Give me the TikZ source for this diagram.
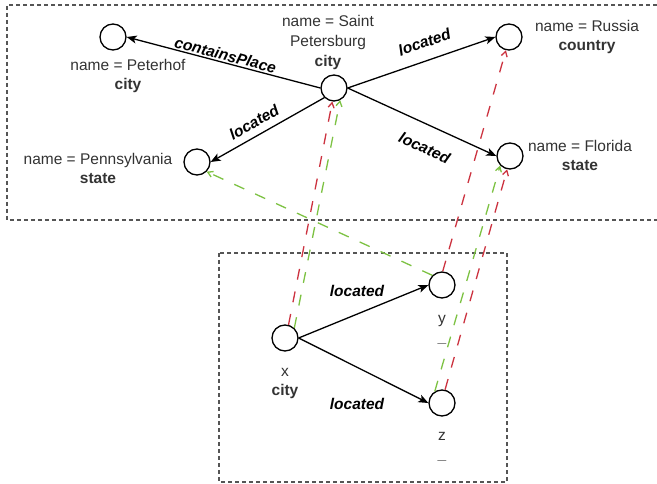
\documentclass[tikz,border=0pt]{standalone}
\usepackage{fontspec}
\setmainfont{Liberation Sans}
\usepackage{xcolor}
\usetikzlibrary{arrows.meta,positioning}
\definecolor{frame}{HTML}{555555}
\definecolor{redlink}{HTML}{CC3340}
\definecolor{greenlink}{HTML}{7DC243}

\begin{document}
\begin{tikzpicture}[x=1pt,y=-1pt,
  every node/.style={font=\fontsize{15.5}{19}\selectfont},
  ent/.style={circle,draw=black,line width=1.3pt,minimum size=26pt,inner sep=0pt},
  lbl/.style={align=center,inner sep=0pt,text=black!80},
  elabel/.style={font=\fontsize{15.5}{19}\selectfont\bfseries\itshape,inner sep=0pt},
  rel/.style={line width=1.3pt,-{Stealth[length=10pt,width=8pt,inset=2.5pt]}},
  redmap/.style={draw=redlink,line width=1.3pt,dash pattern=on 11pt off 12pt,-{Straight Barb[length=5pt,width=6pt]}},
  greenmap/.style={redmap,draw=greenlink},
  box/.style={draw=frame,line width=1.2pt,dash pattern=on 4pt off 3pt}]
  \useasboundingbox (0,0) rectangle (657,484);
  % the two graphs
  \draw[box] (657,5) -| (7,220) -- (657,220);
  \draw[box] (219,253) rectangle (507,482);
  % data graph
  \node[ent] (peterhof) at (113,37) {};
  \node[ent] (spb) at (334,88) {};
  \node[ent] (penn) at (197,162) {};
  \node[ent] (russia) at (509,37) {};
  \node[ent] (florida) at (510,156) {};
  \node[lbl] (peterhofl) at (128,76) {name = Peterhof\\\textbf{city}};
  \node[lbl,align=center,font=\fontsize{15.5}{20}\selectfont] (spbl) at (328,42) {name = Saint\\Petersburg\\\textbf{city}};
  \node[lbl] (pennl) at (98,168.5) {name = Pennsylvania\\\textbf{state}};
  \node[lbl] (russial) at (587,36.5) {name = Russia\\\textbf{country}};
  \node[lbl] (floridal) at (580,155.5) {name = Florida\\\textbf{state}};
  \draw[rel] (spb.west) -- node[elabel,sloped,above=1.5pt,pos=0.5]{containsPlace} (peterhof.east);
  \draw[rel] (spb.225) -- node[elabel,sloped,above=7pt,pos=0.56]{located} (penn.east);
  \draw[rel] (spb.east) -- node[elabel,sloped,above=12pt,pos=0.56]{located} (russia.west);
  \draw[rel] (spb.east) -- node[elabel,sloped,below=16pt,pos=0.58]{located} (florida.west);
  % query pattern
  \node[ent] (x) at (285,338) {};
  \node[ent] (y) at (442,285) {};
  \node[ent] (z) at (442,403) {};
  \node[lbl] (xl) at (285,383.5) {x\\\textbf{city}};
  \node[lbl] (yl) at (442,330) {y\\\textbf{\_}};
  \node[lbl] (zl) at (442,447) {z\\\textbf{\_}};
  \draw[rel] (x.east) -- node[elabel,pos=0.45,above=17pt]{located} (y.west);
  \draw[rel] (x.east) -- node[elabel,pos=0.45,below=30pt]{located} (z.west);
  % matches
  \draw[redmap] (x.75) -- (spb.263);
  \draw[greenmap] (x.47) -- (spb.297);
  \draw[greenmap] (y.135) -- (penn.315);
  \draw[redmap] (y.87) -- (russia.257);
  \draw[greenmap] (z.122) -- (florida.224);
  \draw[redmap] (z.77) -- (florida.258);
\end{tikzpicture}
\end{document}
